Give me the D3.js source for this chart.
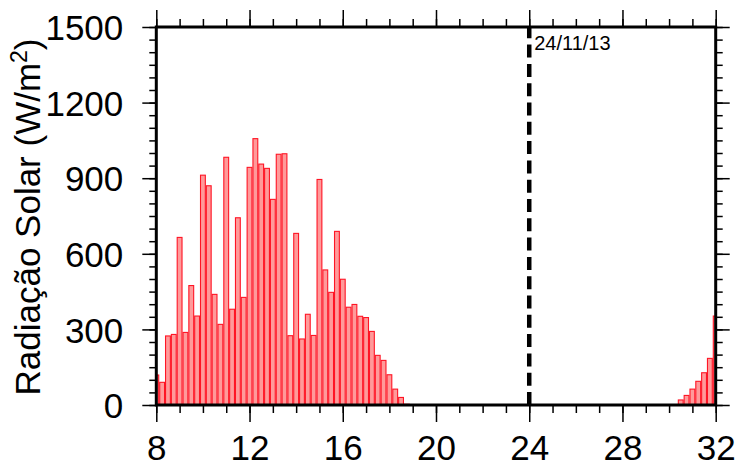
<!DOCTYPE html>
<html><head><meta charset="utf-8">
<script src="https://cdn.jsdelivr.net/npm/d3@7"></script>
<style>body{margin:0;background:#fff}svg{display:block}text{font-family:"Liberation Sans",Arial,sans-serif}</style>
</head><body><svg id="c" width="736" height="466"></svg>
<script>
// Data: 15-minute solar radiation (W/m2)
const stepHours = 0.25;
const day1Start = 8.0;
const day1Values = [119, 90, 274, 280, 665, 288, 474, 353, 912, 870, 439, 320, 983, 380, 743, 427,
  943, 1057, 956, 939, 816, 995, 997, 275, 681, 262, 360, 276, 895, 536, 447, 689,
  499, 388, 399, 352, 347, 292, 197, 177, 120, 63, 30, 3];
const day2Start = 30.5;
const day2Values = [20, 38, 63, 94, 128, 185, 353];
const xTicksMajor = [8, 12, 16, 20, 24, 28, 32];
const yTicksMajor = [0, 300, 600, 900, 1200, 1500];
const markerHour = 24;
const markerLabel = "24/11/13";
const yLabel = "Radiação Solar (W/m";

const bars = [];
day1Values.forEach((v, i) => bars.push({t: day1Start + i * stepHours, v}));
day2Values.forEach((v, i) => bars.push({t: day2Start + i * stepHours, v}));

const L = 156.3, R = 715.7, T = 27, B = 405;
const svg = d3.select("#c");
const x = d3.scaleLinear().domain([8, 32]).range([L, R]);
const y = d3.scaleLinear().domain([0, 1500]).range([B, T]);

svg.append("clipPath").attr("id", "clip").append("rect")
  .attr("x", L).attr("y", T).attr("width", R - L).attr("height", B - T);

const bw = x(stepHours) - x(0);
svg.append("g").attr("clip-path", "url(#clip)").selectAll("rect").data(bars).join("rect")
  .attr("x", d => x(d.t) - bw / 2 + 0.5)
  .attr("width", bw - 1)
  .attr("y", d => y(d.v))
  .attr("height", d => y(0) - y(d.v))
  .attr("fill", "#ff9a9a").attr("stroke", "#ff1525").attr("stroke-width", 1.1);

// dashed marker
svg.append("line").attr("x1", x(markerHour)).attr("x2", x(markerHour))
  .attr("y1", B).attr("y2", T)
  .attr("stroke", "#000").attr("stroke-width", 4.5).attr("stroke-dasharray", "13,6.3");
svg.append("text").attr("x", x(markerHour) + 5).attr("y", 49.5)
  .attr("font-size", 20).text(markerLabel);

// axes
const xMinor = d3.range(8, 33, 1);
const yMinor = d3.range(0, 1501, 50);
const fmt = d3.format("d");
function styleAxis(g) {
  g.select(".domain").remove();
  g.selectAll(".tick line").attr("stroke", "#000").attr("stroke-width", 1.5);
}
// bottom
svg.append("g").attr("transform", `translate(0,${B})`)
  .call(d3.axisBottom(x).tickValues(xMinor).tickSize(8).tickFormat("")).call(styleAxis);
svg.append("g").attr("transform", `translate(0,${B})`)
  .call(d3.axisBottom(x).tickValues(xTicksMajor).tickSize(17).tickPadding(13).tickFormat(fmt))
  .call(styleAxis).call(g => g.selectAll("text").attr("font-size", 35).attr("fill", "#000").attr("dy", "0.71em"));
// top
svg.append("g").attr("transform", `translate(0,${T})`)
  .call(d3.axisTop(x).tickValues(xMinor).tickSize(8).tickFormat("")).call(styleAxis);
svg.append("g").attr("transform", `translate(0,${T})`)
  .call(d3.axisTop(x).tickValues(xTicksMajor).tickSize(17).tickFormat("")).call(styleAxis);
// left
svg.append("g").attr("transform", `translate(${L},0)`)
  .call(d3.axisLeft(y).tickValues(yMinor).tickSize(7).tickFormat("")).call(styleAxis);
svg.append("g").attr("transform", `translate(${L},0)`)
  .call(d3.axisLeft(y).tickValues(yTicksMajor).tickSize(14).tickPadding(19).tickFormat(fmt))
  .call(styleAxis).call(g => g.selectAll("text").attr("font-size", 35).attr("fill", "#000").attr("dy", "0.36em"));
// right
svg.append("g").attr("transform", `translate(${R},0)`)
  .call(d3.axisRight(y).tickValues(yMinor).tickSize(7).tickFormat("")).call(styleAxis);
svg.append("g").attr("transform", `translate(${R},0)`)
  .call(d3.axisRight(y).tickValues(yTicksMajor).tickSize(14).tickFormat("")).call(styleAxis);

// frame
svg.append("rect").attr("x", L).attr("y", T).attr("width", R - L).attr("height", B - T)
  .attr("fill", "none").attr("stroke", "#000").attr("stroke-width", 3);

// y label
const yl = svg.append("text").attr("transform", `translate(40,${(T + B) / 2 + 1}) rotate(-90)`)
  .attr("text-anchor", "middle").attr("font-size", 35).attr("fill", "#000");
yl.append("tspan").text(yLabel);
yl.append("tspan").attr("font-size", 23).attr("dy", "-0.55em").text("2");
yl.append("tspan").attr("dy", "0.36em").text(")");
</script></body></html>
